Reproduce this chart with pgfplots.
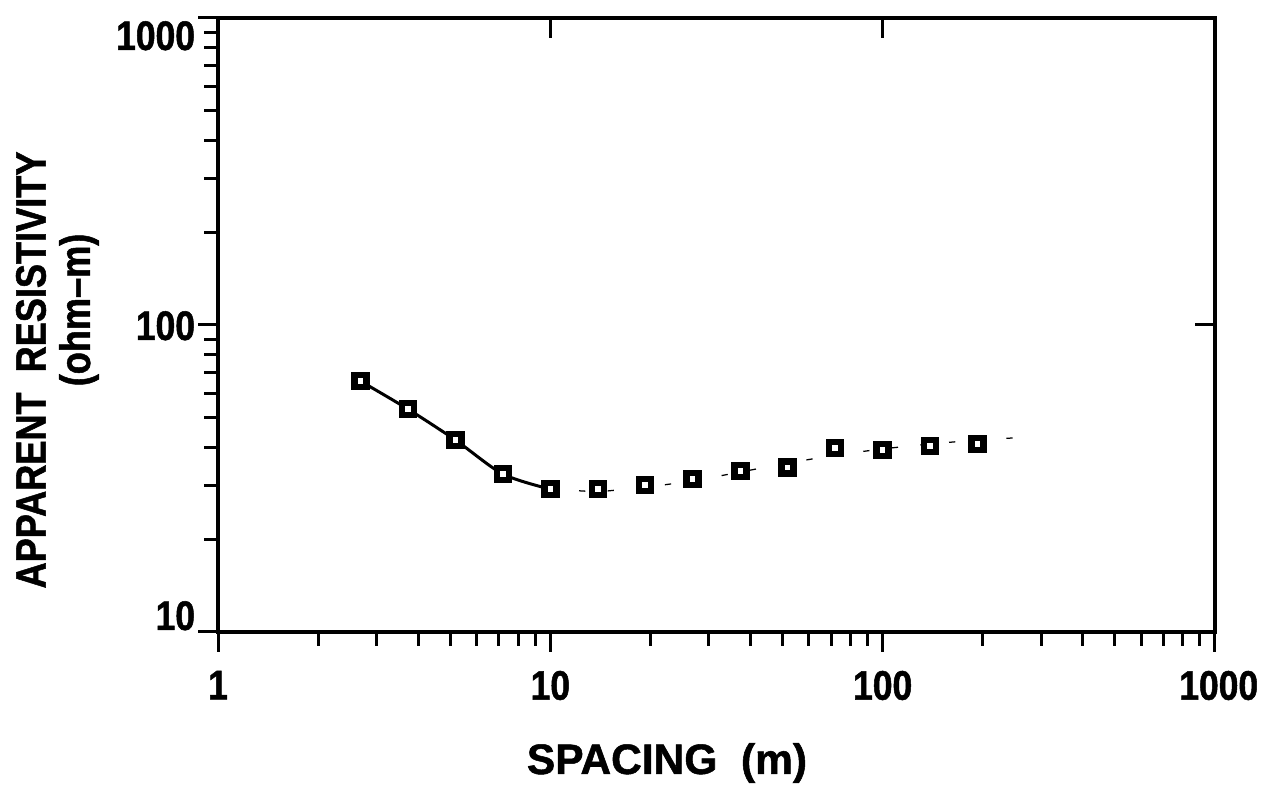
\documentclass[border=0pt]{standalone}
\usepackage{fontspec}
\setmainfont{Liberation Sans}
\newfontfamily\tickfam[FakeStretch=0.86, FakeBold=1.2]{Liberation Sans}
\newfontfamily\condfam[FakeStretch=0.85, FakeBold=1.2]{Liberation Sans}
\newfontfamily\labfam[FakeBold=1.2]{Liberation Sans}
\usepackage{pgfplots}
\pgfplotsset{compat=1.18}
\begin{document}
\begin{tikzpicture}
\useasboundingbox (0,0) rectangle (504.4pt,318pt);
\begin{axis}[
  at={(87.2pt,65.2pt)}, anchor=south west,
  scale only axis, width=398.8pt, height=245.6pt,
  xmode=log, ymode=log,
  xmin=1, xmax=1000, ymin=10, ymax=1000,
  xtick={1,10,100,1000}, xticklabels={1,10,100,\hspace*{3pt}1000},
  ytick={10,100,1000},
  yticklabels={\raisebox{0.8pt}[0pt][0pt]{10},\raisebox{-6pt}[0pt][0pt]{100},\raisebox{-12.8pt}[0pt][0pt]{1000}},
  minor xtick={2,3,4,5,6,7,8,9,20,30,40,50,60,70,80,90,200,300,400,500,600,700,800,900},
  minor ytick={20,30,40,50,60,70,80,90,200,300,400,500,600,700,800,900},
  xtick pos=left, ytick pos=left,
  tick align=outside,
  major tick length=8pt, minor tick length=5.5pt,
  every tick/.style={line width=1.2pt, black},
  axis line style={line width=1.4pt},
  xticklabel style={font=\tickfam\bfseries\fontsize{16.5}{18}\selectfont, anchor=north, inner sep=0pt, yshift=-7.4pt},
  yticklabel style={font=\tickfam\bfseries\fontsize{16.5}{18}\selectfont, anchor=east, inner sep=0pt, xshift=-1pt},
  clip=false,
]
\addplot[black, line width=1.2pt, smooth] coordinates {
(2.68,65.7) (3.73,53.2) (5.18,42.2) (7.2,32.7) (10,29.2)
};
\addplot[black, line width=0.5pt, dash pattern=on 2.5pt off 9pt] coordinates {
(10,29.2) (13.9,28.6) (19.3,29.6) (26.8,31.0) (37.3,33.2) (51.8,35.5) (72,37.7) (100,39.5) (139,41.0) (193,42.2) (280,43.2)
};
\addplot[only marks, mark=square*, mark size=2.4pt, mark options={line width=2.6pt, draw=black, fill=white}] coordinates {
(2.68,65.7) (3.73,53.2) (5.18,42.2) (7.2,32.7) (10,29.2) (13.9,29.2) (19.3,30.1) (26.8,31.5) (37.3,33.4) (51.8,34.4) (72,39.7) (100,39.2) (139,40.4) (193,41.0)
};
\end{axis}
\begin{axis}[
  at={(87.2pt,65.2pt)}, anchor=south west,
  scale only axis, width=398.8pt, height=245.6pt,
  xmode=log, ymode=log,
  xmin=1, xmax=1000, ymin=10, ymax=1000,
  xtick={10,100}, ytick={100},
  xticklabels={}, yticklabels={},
  xminorticks=false, yminorticks=false,
  xtick pos=right, ytick pos=right,
  tick align=inside,
  major tick length=8pt,
  every tick/.style={line width=1.2pt, black},
  axis line style={draw=none},
]
\end{axis}
\node[rotate=90, font=\condfam\bfseries\fontsize{17}{19}\selectfont, inner sep=0pt] at (12.4pt,170pt) {APPARENT\ \ RESISTIVITY};
\node[rotate=90, font=\condfam\bfseries\fontsize{17}{19}\selectfont, inner sep=0pt] at (31.6pt,194pt) {(ohm–m)};
\node[font=\labfam\bfseries\fontsize{17}{19}\selectfont, inner sep=0pt] at (266.8pt,12.8pt) {SPACING\ \ (m)};
\end{tikzpicture}
\end{document}
